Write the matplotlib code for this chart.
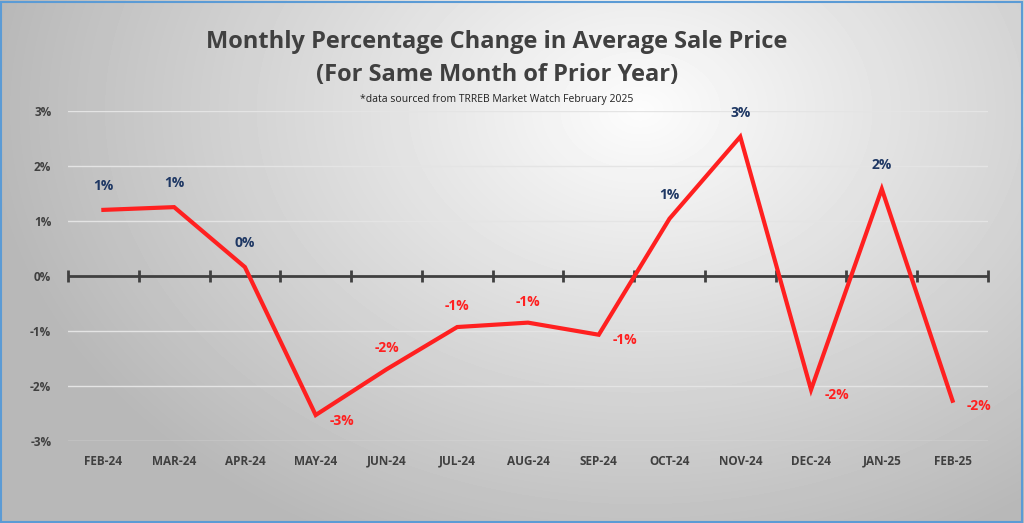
import matplotlib.pyplot as plt
import numpy as np
from matplotlib import font_manager

months = ['FEB-24', 'MAR-24', 'APR-24', 'MAY-24', 'JUN-24', 'JUL-24', 'AUG-24',
          'SEP-24', 'OCT-24', 'NOV-24', 'DEC-24', 'JAN-25', 'FEB-25']
pct_change = [1.20, 1.25, 0.16, -2.53, -1.70, -0.93, -0.85,
              -1.07, 1.04, 2.53, -2.07, 1.58, -2.27]
yticks = [-3, -2, -1, 0, 1, 2, 3]

names = {f.name for f in font_manager.fontManager.ttflist}
fam = ['Liberation Sans Narrow', 'Open Sans', 'DejaVu Sans']
fam = [f for f in fam if f in names] or ['DejaVu Sans']
plt.rcParams['font.family'] = fam

fig = plt.figure(figsize=(10.24, 5.23), dpi=100)

# radial gray background
bg = fig.add_axes([0, 0, 1, 1], zorder=-10)
yy, xx = np.mgrid[0:523, 0:1024]
d = np.sqrt(((xx - 640) / 680.0) ** 2 + ((yy - 110) / 500.0) ** 2)
shade = np.clip(0.99 - 0.28 * d, 0.72, 1.0)
bg.imshow(shade, cmap='gray', vmin=0, vmax=1, aspect='auto', extent=[0, 1, 0, 1])
bg.add_patch(plt.Rectangle((0.001, 0.002), 0.997, 0.995, fill=False,
                           ec='#5b9bd5', lw=1.5, transform=bg.transAxes))
bg.axis('off')

ax = fig.add_axes([0.0664, 0.157, 0.8984, 0.631])
ax.patch.set_alpha(0)
x = np.arange(len(months))
ax.set_xlim(-0.5, len(months) - 0.5)
ax.set_ylim(-3, 3)
ax.set_yticks(yticks)
ax.set_yticklabels([f'{v}%' for v in yticks])
for v in yticks:
    if v != 0:
        ax.axhline(v, color='#e4e4e4', lw=1, zorder=1)
for s in ax.spines.values():
    s.set_visible(False)

# zero axis with category ticks
ax.axhline(0, color='#404040', lw=2, zorder=2)
bounds = np.arange(len(months) + 1) - 0.5
ax.plot(bounds, np.zeros_like(bounds), ls='none', marker='|', ms=9, mew=2,
        color='#404040', zorder=2, clip_on=False)

ax.plot(x, pct_change, color='#ff2020', lw=3, zorder=3, solid_joinstyle='miter')

ax.set_xticks(x)
ax.set_xticklabels(months)
ax.tick_params(axis='both', length=0, colors='#404040', labelsize=8.5)
ax.tick_params(axis='x', pad=10)
ax.tick_params(axis='y', pad=12)
for t in ax.get_xticklabels() + ax.get_yticklabels():
    t.set_fontweight('bold')

above = {0, 1, 2, 4, 5, 6, 8, 9, 11}
for i, v in enumerate(pct_change):
    lab = f'{round(v):.0f}%'
    if v > 0:
        ax.annotate(lab, (i, v), xytext=(0, 12), textcoords='offset points',
                    ha='center', va='bottom', color='#1f3864', fontsize=10,
                    fontweight='bold')
    elif i in above:
        ax.annotate(lab, (i, v), xytext=(0, 10), textcoords='offset points',
                    ha='center', va='bottom', color='#ff2020', fontsize=10,
                    fontweight='bold')
    else:
        ax.annotate(lab, (i, v), xytext=(10, -4), textcoords='offset points',
                    ha='left', va='center', color='#ff2020', fontsize=10,
                    fontweight='bold')

fig.text(0.485, 0.92, 'Monthly Percentage Change in Average Sale Price',
         ha='center', va='center', fontsize=17, fontweight='bold', color='#404040')
fig.text(0.485, 0.857, '(For Same Month of Prior Year)',
         ha='center', va='center', fontsize=17, fontweight='bold', color='#404040')
fig.text(0.485, 0.81, '*data sourced from TRREB Market Watch February 2025',
         ha='center', va='center', fontsize=7.5, color='#202020')

fig.savefig('out.png', dpi=100)
